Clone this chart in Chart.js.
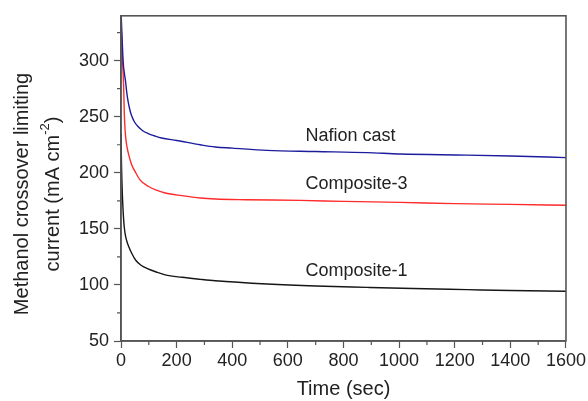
<!DOCTYPE html>
<html>
<head>
<meta charset="utf-8">
<script src="https://cdn.jsdelivr.net/npm/chart.js@4/dist/chart.umd.min.js"></script>
<style>
html,body{margin:0;padding:0;background:#fff;}
#wrap{width:588px;height:401px;position:relative;}
</style>
</head>
<body>
<div id="wrap"><canvas id="c"></canvas></div>
<script>
// ---- data ----
const nafionTime = [0, 3, 8, 12, 16.6, 21, 26, 32, 38, 48, 62, 78, 98, 120, 146, 200, 285, 339, 400, 525, 700, 885, 1004, 1244, 1400, 1600];
const nafionCurrent = [345, 326, 298, 289, 281, 271, 263, 256, 251, 245.5, 241, 237.5, 235, 233, 231, 228.8, 225, 223, 222, 220, 219, 218, 216.7, 215.8, 215, 213.5];

const comp3Time = [0, 4, 9.4, 12, 15, 19, 24, 30, 38, 51, 69, 99, 127, 159, 219, 285, 339, 450, 645, 800, 1004, 1200, 1400, 1600];
const comp3Current = [338, 308, 278, 252, 237, 227, 220, 214, 207.5, 201, 193.5, 187.8, 184.5, 182, 179.6, 177.5, 176.6, 176, 175.4, 174.5, 173.6, 172.5, 171.8, 171];

const comp1Time = [0, 2, 5, 9, 12, 16, 21, 28, 38, 53, 72, 95, 127, 159, 219, 285, 339, 525, 700, 885, 1050, 1244, 1400, 1600];
const comp1Current = [235, 205, 180, 160, 151, 144, 139, 134, 128.5, 122, 117.5, 114.5, 111.5, 109, 106.8, 105, 103.7, 100.8, 99, 97.8, 96.8, 95.8, 95, 94.3];

const seriesNames = ['Nafion cast', 'Composite-3', 'Composite-1'];
const labelTime = [663, 663, 663];
const labelCurrent = [233, 189.6, 112.6];

const xTitle = 'Time (sec)';
const yTitleLine1 = 'Methanol crossover limiting';
const yTitleLine2 = 'current (mA cm';
const yTitleSup = '-2';
const yTitleEnd = ')';

const xMin = 0, xMax = 1600, xMajor = 200, xMinor = 100;
const yMin = 50, yMax = 340, yMajor = 50, yMinor = 25;

// ---- helpers ----
function pts(t, v) { return t.map((x, i) => ({x: x, y: v[i]})); }
const FONT = '"Liberation Sans", Arial, Helvetica, sans-serif';
const AXIS = '#555';
const TEXT = '#222';

const framePlugin = {
  id: 'frame',
  afterDraw(chart) {
    const {ctx, chartArea: a, scales} = chart;
    ctx.save();
    // frame
    ctx.strokeStyle = AXIS;
    ctx.lineWidth = 1.6;
    ctx.strokeRect(a.left, a.top, a.right - a.left, a.bottom - a.top);
    // minor ticks
    ctx.lineWidth = 1.2;
    ctx.beginPath();
    for (let v = xMin + xMinor; v < xMax; v += xMajor) {
      const px = scales.x.getPixelForValue(v);
      ctx.moveTo(px, a.bottom); ctx.lineTo(px, a.bottom + 4);
    }
    for (let v = yMin + yMinor; v <= yMax; v += yMajor) {
      const py = scales.y.getPixelForValue(v);
      ctx.moveTo(a.left, py); ctx.lineTo(a.left - 4, py);
    }
    ctx.stroke();
    // series labels
    ctx.fillStyle = TEXT;
    ctx.font = '18px ' + FONT;
    ctx.textAlign = 'left';
    ctx.textBaseline = 'middle';
    seriesNames.forEach((n, i) => {
      ctx.fillText(n, scales.x.getPixelForValue(labelTime[i]), scales.y.getPixelForValue(labelCurrent[i]));
    });
    // y title
    const cy = 194;
    ctx.translate(22, cy);
    ctx.rotate(-Math.PI / 2);
    ctx.textAlign = 'center';
    ctx.font = '20px ' + FONT;
    ctx.fillText(yTitleLine1, 0, 0);
    ctx.restore();

    ctx.save();
    ctx.translate(53, cy);
    ctx.rotate(-Math.PI / 2);
    ctx.fillStyle = TEXT;
    ctx.textBaseline = 'middle';
    ctx.font = '20px ' + FONT;
    const w1 = ctx.measureText(yTitleLine2).width;
    const w3 = ctx.measureText(yTitleEnd).width;
    ctx.font = '13px ' + FONT;
    const w2 = ctx.measureText(yTitleSup).width;
    const total = w1 + w2 + w3;
    let x0 = -total / 2;
    ctx.textAlign = 'left';
    ctx.font = '20px ' + FONT;
    ctx.fillText(yTitleLine2, x0, 0);
    ctx.font = '13px ' + FONT;
    ctx.fillText(yTitleSup, x0 + w1, -8);
    ctx.font = '20px ' + FONT;
    ctx.fillText(yTitleEnd, x0 + w1 + w2, 0);
    ctx.restore();
  }
};

const commonLine = {
  fill: false,
  pointRadius: 0,
  borderWidth: 1.4,
  cubicInterpolationMode: 'monotone'
};

new Chart(document.getElementById('c'), {
  type: 'line',
  data: {
    datasets: [
      Object.assign({label: seriesNames[0], data: pts(nafionTime, nafionCurrent), borderColor: '#1c1c9c'}, commonLine),
      Object.assign({label: seriesNames[1], data: pts(comp3Time, comp3Current), borderColor: '#ff2a2a'}, commonLine),
      Object.assign({label: seriesNames[2], data: pts(comp1Time, comp1Current), borderColor: '#161616'}, commonLine)
    ]
  },
  options: {
    responsive: true,
    maintainAspectRatio: false,
    animation: false,
    events: [],
    layout: {padding: {left: 0, right: 22, top: 14, bottom: 0}},
    plugins: {legend: {display: false}, tooltip: {enabled: false}},
    scales: {
      x: {
        type: 'linear',
        min: xMin, max: xMax,
        afterFit(s) { s.height = 60; },
        border: {display: true, color: AXIS, width: 1.6},
        grid: {drawOnChartArea: false, drawTicks: true, tickLength: 7, tickColor: AXIS, tickWidth: 1.2},
        ticks: {stepSize: xMajor, includeBounds: false, autoSkip: false, maxRotation: 0,
          callback: v => String(v),
          color: TEXT, font: {family: FONT, size: 18}, padding: 2},
        title: {display: true, text: xTitle, color: TEXT, font: {family: FONT, size: 20}, padding: {top: 0, bottom: 0}}
      },
      y: {
        type: 'linear',
        min: yMin, max: yMax,
        afterFit(s) { s.width = 121; },
        border: {display: true, color: AXIS, width: 1.6},
        grid: {drawOnChartArea: false, drawTicks: true, tickLength: 7, tickColor: AXIS, tickWidth: 1.2},
        ticks: {stepSize: yMajor, includeBounds: false, autoSkip: false,
          callback: v => String(v),
          color: TEXT, font: {family: FONT, size: 18}, padding: 5},
        title: {display: false}
      }
    }
  },
  plugins: [framePlugin]
});
</script>
</body>
</html>
